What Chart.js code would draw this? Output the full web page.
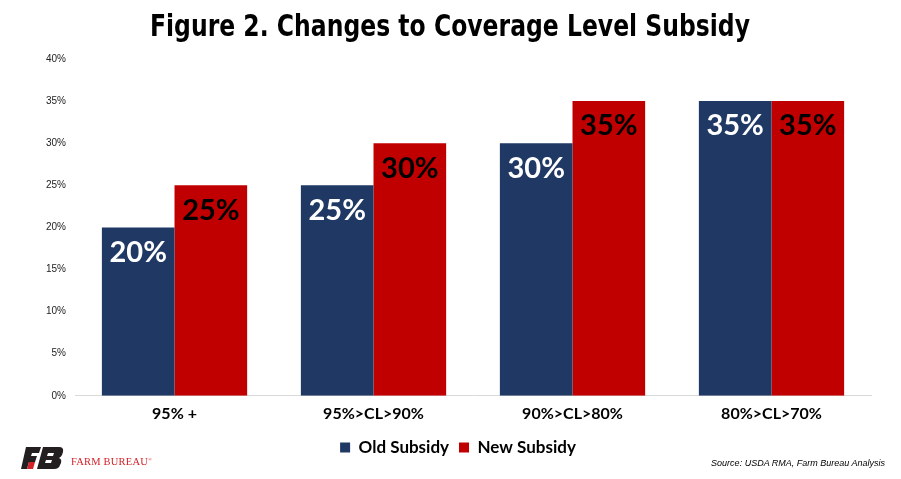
<!DOCTYPE html>
<html>
<head>
<meta charset="utf-8">
<script src="https://cdn.jsdelivr.net/npm/chart.js@4/dist/chart.umd.min.js"></script>
<style>
  body { margin: 0; background: #fff; }
  #wrap { position: relative; width: 901px; height: 479px; }
  #logo { position: absolute; left: 21px; top: 447px; display: flex; align-items: center; }
  #logo span { font-family: 'Liberation Serif', serif; color: #d2232a; font-size: 10.5px; margin-left: 6px; margin-top: 7px; letter-spacing: 0.2px; }
  #logo sup { font-size: 5px; }
  #source { position: absolute; right: 16px; top: 458px; font-family: 'Liberation Sans', Arial, sans-serif;
            font-style: italic; font-size: 9px; color: #000; }
</style>
</head>
<body>
<div id="wrap">
  <canvas id="c" width="901" height="479"></canvas>
  <div id="logo">
    <svg width="44" height="22" viewBox="0 0 44 22">
      <polygon points="5,0 20,0 18,6 11,6 10,9 16,9 14,15 8,15 6,22 0,22" fill="#231f20"/>
      <polygon points="8,15 14,15 12,22 6,22" fill="#d2232a"/>
      <path d="M22,0 L38,0 Q43,0 42,5 L41,8 Q40,10 38,11 Q41,12 40,16 L39,18 Q38,22 33,22 L16,22 Z" fill="#231f20"/>
      <polygon points="27,6 33,6 32,9 26,9" fill="#fff"/>
      <polygon points="25,13 31,13 30,16 24,16" fill="#fff"/>
    </svg>
    <span>FARM BUREAU<sup>®</sup></span>
  </div>
  <div id="source">Source: USDA RMA, Farm Bureau Analysis</div>
</div>
<script>
const title = 'Figure 2. Changes to Coverage Level Subsidy';
const categories = ['95% +', '95%>CL>90%', '90%>CL>80%', '80%>CL>70%'];
const oldSubsidy = [20, 25, 30, 35];
const newSubsidy = [25, 30, 35, 35];
const yTicks = [0, 5, 10, 15, 20, 25, 30, 35, 40];

const BLUE = '#1f3864';
const RED = '#c00000';

// condensed heavy title, squeezed to the width of the original
const condensedTitle = {
  id: 'condensedTitle',
  afterDraw(chart) {
    const ctx = chart.ctx;
    ctx.save();
    ctx.font = 'bold 31px "DejaVu Sans", sans-serif';
    ctx.fillStyle = '#000';
    ctx.textBaseline = 'alphabetic';
    const w = ctx.measureText(title).width;
    const sx = 600 / w;
    ctx.translate(150, 36);
    ctx.scale(sx, 1);
    ctx.fillText(title, 0, 0);
    ctx.restore();
  }
};

// value labels drawn inside the top of each bar
const barLabels = {
  id: 'barLabels',
  afterDatasetsDraw(chart) {
    const ctx = chart.ctx;
    ctx.save();
    ctx.font = 'bold 29px Lato, "Open Sans", sans-serif';
    ctx.textAlign = 'center';
    ctx.textBaseline = 'middle';
    chart.data.datasets.forEach((ds, i) => {
      const meta = chart.getDatasetMeta(i);
      meta.data.forEach((bar, j) => {
        ctx.fillStyle = i === 0 ? '#fff' : '#000';
        ctx.fillText(ds.data[j] + '%', bar.x, bar.y + 25);
      });
    });
    ctx.restore();
  }
};

new Chart(document.getElementById('c'), {
  type: 'bar',
  data: {
    labels: categories,
    datasets: [
      { label: 'Old Subsidy', data: oldSubsidy, backgroundColor: BLUE },
      { label: 'New Subsidy', data: newSubsidy, backgroundColor: RED },
    ],
  },
  options: {
    responsive: false,
    animation: false,
    layout: { padding: { left: 45, right: 30, top: 59, bottom: 13 } },
    datasets: { bar: { categoryPercentage: 0.73, barPercentage: 1 } },
    plugins: {
      title: { display: false },
      legend: {
        position: 'bottom',
        labels: {
          color: '#000',
          boxWidth: 10,
          boxHeight: 10,
          padding: 10,
          font: { family: 'Lato, "Open Sans", sans-serif', size: 17, weight: 'bold' },
        },
      },
      tooltip: { enabled: false },
    },
    scales: {
      x: {
        grid: { display: false },
        border: { color: '#d9d9d9' },
        afterFit: s => { s.height += 6; },
        ticks: {
          color: '#000',
          padding: 0,
          font: { family: 'Lato, "Open Sans", sans-serif', size: 16, weight: 'bold' },
        },
      },
      y: {
        min: 0,
        max: 40,
        grid: { display: false },
        border: { display: false },
        afterBuildTicks: axis => { axis.ticks = yTicks.map(v => ({ value: v })); },
        ticks: {
          color: '#222',
          padding: 1,
          callback: v => v + '%',
          font: { family: '"Liberation Sans", Arial, sans-serif', size: 10 },
        },
      },
    },
  },
  plugins: [barLabels, condensedTitle],
});
</script>
</body>
</html>
